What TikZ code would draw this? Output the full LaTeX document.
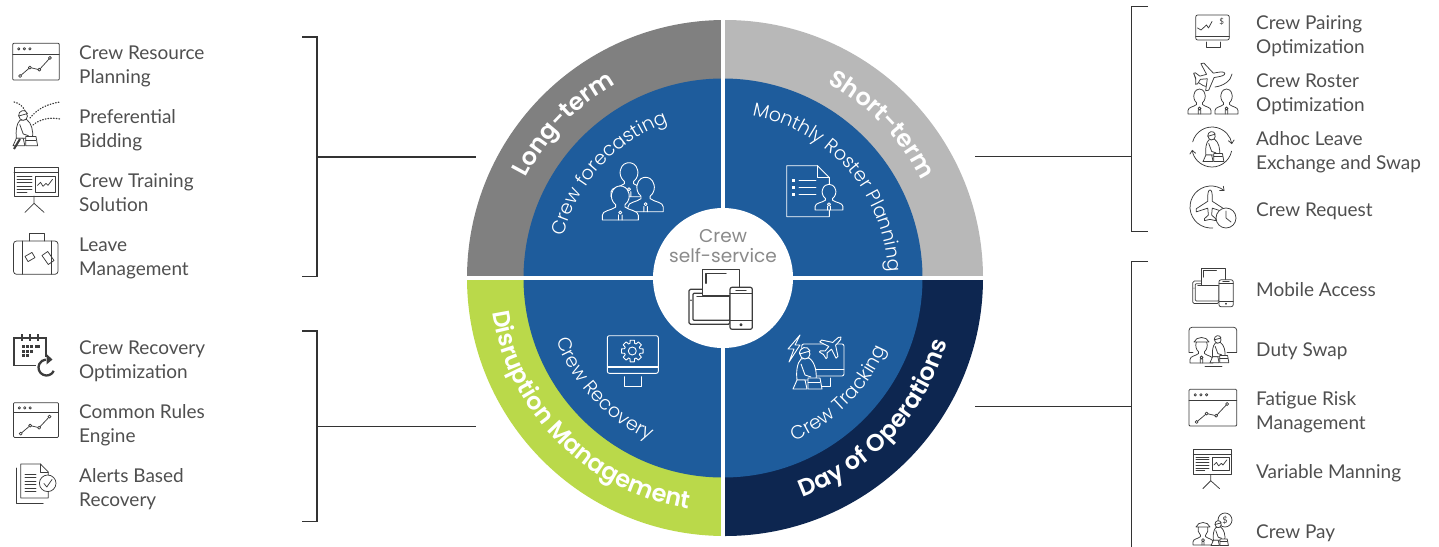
\documentclass[tikz,border=0pt]{standalone}
\usepackage{fontspec}
\usetikzlibrary{decorations.text,arrows.meta}
\setmainfont{Lato}
\newfontfamily\ringfont{Poppins SemiBold}
\newfontfamily\ringlight{Poppins Light}
\newfontfamily\midfont{Poppins}
\definecolor{icgray}{HTML}{3C3C3C}
\definecolor{lblgray}{HTML}{4F4F4F}
\definecolor{brkgray}{HTML}{333333}
\definecolor{qlong}{HTML}{808080}
\definecolor{qshort}{HTML}{B8B8B8}
\definecolor{qdis}{HTML}{BAD94A}
\definecolor{qday}{HTML}{0D2650}
\definecolor{qblue}{HTML}{1E5C9C}
\definecolor{midgray}{HTML}{8A8A8A}
\tikzset{
 ic/.style={draw=icgray,line width=.75pt,line join=round,line cap=round},
 icf/.style={fill=white},
 icb/.style={fill=icgray,draw=none},
 lbl/.style={anchor=west,inner sep=0pt,align=left,text=lblgray,font=\fontsize{19}{24}\selectfont,yshift=-1.5pt,text height=14pt,text depth=5pt},
 lbltwo/.style={lbl,text height=38pt},
 brk/.style={draw=brkgray,line width=1.1pt},
 tip/.style={-{Straight Barb[length=3.5pt,width=6pt]}},
}
% chart window: x,y,w,h
\newcommand\chartwin[4]{\begin{scope}[shift={(#1,#2)},x=#3pt,y=-#4pt]
 \draw[ic,rounded corners=1pt] (0,0) rectangle (1,1);
 \draw[ic] (0,.29)--(1,.29);
 \foreach \q in {.13,.25,.37}{\draw[ic] (\q,.15) circle[radius=1.2pt];}
 \draw[ic] (.16,.89)--(.37,.66)--(.57,.72)--(.8,.4);
 \foreach \p in {(.16,.89),(.37,.66),(.57,.72),(.8,.4)}{\draw[ic,icf] \p circle[radius=1.5pt];}
\end{scope}}
% presentation board
\newcommand\boardicon[3]{\begin{scope}[shift={(#1,#2)},scale=#3]
 \draw[ic] (0,0) rectangle (44,28.7); \draw[ic] (0,5.4)--(44,5.4);
 \foreach \q in {8.7,12,15.3,18.7,22}{\draw[ic] (3,\q)--(18,\q);}
 \draw[ic] (3,24.7)--(13,24.7);
 \draw[ic] (21.7,8.7) rectangle (41,24.7);
 \draw[ic] (23.5,18)--(26.5,15)--(29,19)--(32,16)--(34,18)--(38.5,12);
 \draw[ic] (20,28.7)--(20,36) (11,45)--(20,36)--(30,45);
\end{scope}}
% bust: centre x, top, w, h
\newcommand\bust[4]{\begin{scope}[shift={(#1,#2)},x=#3pt,y=-#4pt]
 \draw[ic,icf] (-.5,1)--(-.5,.86) .. controls (-.5,.72) and (-.25,.72) .. (-.13,.62) -- (-.13,.55) .. controls (-.25,.45) and (-.26,.3) .. (-.24,.22) .. controls (-.2,.04) and (-.08,0) .. (0,0) .. controls (.08,0) and (.2,.04) .. (.24,.22) .. controls (.26,.3) and (.25,.45) .. (.13,.55) -- (.13,.62) .. controls (.25,.72) and (.5,.72) .. (.5,.86) -- (.5,1) -- cycle;
 \draw[ic] (0,.78) circle[radius=1.5pt] (-.05,.85)--(-.05,1) (.05,.85)--(.05,1);
\end{scope}}
% plane: cx,cy,scale,rot
\newcommand\planeicon[4]{\begin{scope}[shift={(#1,#2)},scale=#3,rotate=#4]
 \draw[ic,icf] (0,-12) .. controls (1.5,-12) and (1.8,-9) .. (1.8,-6) -- (1.8,-3) -- (11,3) -- (11,5.5) -- (1.8,2.5) -- (1.3,8) -- (4.5,11) -- (4.5,12.5) -- (0,11.5) -- (-4.5,12.5) -- (-4.5,11) -- (-1.3,8) -- (-1.8,2.5) -- (-11,5.5) -- (-11,3) -- (-1.8,-3) -- (-1.8,-6) .. controls (-1.8,-9) and (-1.5,-12) .. (0,-12) -- cycle;
\end{scope}}
% worker with helmet and boxes: x,y,scale
\newcommand\worker[3]{\begin{scope}[shift={(#1,#2)},scale=#3]
 \draw[ic,icf] (8,11) .. controls (4,15) and (3,24) .. (4,32) -- (23,32) .. controls (24,24) and (22,14) .. (16,10) -- cycle;
 \draw[ic,icf] (12,6) circle[radius=5pt];
 \draw[ic,icf] (6.5,6) .. controls (6,-1) and (15,-3) .. (17,3) -- cycle;
 \draw[ic] (8,16)--(12,27)--(18,29);
 \draw[ic,icf] (0,41)--(4,32)--(12,32)--(14,41)--cycle;
 \draw[ic,icf] (15,41)--(15,30)--(27,30)--(29,41)--cycle;
 \draw[ic] (15,34)--(27,34);
\end{scope}}
% devices: x,y,scale
\newcommand\devices[4]{\begin{scope}[shift={(#1,#2)},scale=#3,ic/.append style={line width=#4pt}]
 \draw[ic,icf,rounded corners=1.5pt] (0,20) rectangle (41,55);
 \draw[ic,rounded corners=1pt] (4,24) rectangle (41,51);
 \draw[ic,icb] (2,31) circle[radius=.9pt];
 \draw[ic,icf] (13.3,26)--(13.3,0)--(50.3,0)--(50.3,26)--cycle;
 \draw[ic] (17,14)--(17,4)--(37,4);
 \draw[ic] (8,27.4)--(40,27.4);
 \draw[ic,icf,rounded corners=2pt] (41,18) rectangle (63.3,60);
 \draw[ic] (41,24)--(63.3,24) (41,51)--(63.3,51) (47,21)--(57,21);
 \draw[ic] (52,55.5) circle[radius=1pt];
\end{scope}}
\begin{document}
\begin{tikzpicture}[x=1pt,y=-1pt]
\useasboundingbox (0,0) rectangle (1439,546);
\clip (0,0) rectangle (1439,546);
% ---------- wheel ----------
\begin{scope}[shift={(725,278)},y=1pt]
 \fill[qlong] (0,0) -- (180:258) arc[start angle=180,end angle=90,radius=258] -- cycle;
 \fill[qshort] (0,0) -- (90:258) arc[start angle=90,end angle=0,radius=258] -- cycle;
 \fill[qdis] (0,0) -- (180:258) arc[start angle=180,end angle=270,radius=258] -- cycle;
 \fill[qday] (0,0) -- (270:258) arc[start angle=270,end angle=360,radius=258] -- cycle;
\end{scope}
\begin{scope}[shift={(723,278)},y=1pt]
 \fill[qblue] (0,0) circle[radius=199.5];
 \draw[white,line width=3.6pt] (-262,0)--(262,0) (0,-262)--(0,262);
 \fill[white] (0,0) circle[radius=70];
 \path[decorate,decoration={text along path,text align=center,text={|\fontsize{24}{24}\selectfont\ringfont\color{white}|Long-term}}] (156:221) arc[start angle=156,end angle=116,radius=221];
 \path[decorate,decoration={text along path,text align=center,text={|\fontsize{24}{24}\selectfont\ringfont\color{white}|Short-term}}] (65:221) arc[start angle=65,end angle=23,radius=221];
 \path[decorate,decoration={text along path,text align=center,text={|\fontsize{24}{24}\selectfont\ringfont\color{white}|Disruption Management}}] (180:233) arc[start angle=180,end angle=270,radius=233];
 \path[decorate,decoration={text along path,text align=center,text={|\fontsize{24}{24}\selectfont\ringfont\color{white}|Day of Operations}}] (-80:233) arc[start angle=-80,end angle=-6,radius=233];
 \path[decorate,decoration={text along path,text align=center,text={|\fontsize{19}{20}\selectfont\ringlight\color{white}|Crew forecasting}}] (170:165) arc[start angle=170,end angle=105,radius=165];
 \path[decorate,decoration={text along path,text align=center,text={|\fontsize{19}{20}\selectfont\ringlight\color{white}|Monthly Roster Planning}}] (85:165) arc[start angle=85,end angle=-3,radius=165];
 \path[decorate,decoration={text along path,text align=center,text={|\fontsize{19}{20}\selectfont\ringlight\color{white}|Crew Recovery}}] (190:178) arc[start angle=190,end angle=256,radius=178];
 \path[decorate,decoration={text along path,text align=center,text={|\fontsize{19}{20}\selectfont\ringlight\color{white}|Crew Tracking}}] (283:178) arc[start angle=283,end angle=347,radius=178];
\end{scope}
\node[inner sep=0pt,align=center,text=midgray,font=\midfont\fontsize{18.5}{20}\selectfont] (selfsvc) at (723,246) {Crew\\self-service};
\devices{689}{269.3}{1}{1.2}
% ---------- white icons in the wheel ----------
\begin{scope}[ic/.style={draw=white,line width=.9pt,line join=round,line cap=round},icf/.style={fill=qblue}]
 \bust{629}{162.7}{36}{34}
 \bust{645.6}{177.3}{35.3}{34.4}
 \bust{620.3}{186}{36}{34}
 % roster document
 \draw[ic] (829.3,186)--(829.3,177.5)--(817.5,165.7)--(786.7,165.7)--(786.7,216.7)--(829.3,216.7)--(829.3,210);
 \draw[ic] (817.5,165.7)--(817.5,177.5)--(829.3,177.5);
 \foreach \q in {180,187,194}{\draw[ic] (799,\q)--(816,\q); \fill[white] (792,\q-1.5) rectangle (795,\q+1.5);}
 \bust{829}{184.3}{27.7}{25.7}
 % recovery monitor
 \draw[ic,rounded corners=2pt] (607.3,335.7) rectangle (658.3,373.3);
 \draw[white,line width=2pt] (607.3,366.7)--(658.3,366.7);
 \draw[ic] (624,376.7)--(624,386.7)--(641.7,386.7)--(641.7,376.7);
 \begin{scope}[shift={(632.3,351)}]
  \draw[ic] (-11:11) \foreach \a in {0,45,...,315}{ -- (\a-11:11) -- (\a+11:11) -- (\a+17:8) -- (\a+28:8)} -- cycle;
  \draw[ic] (0,0) circle[radius=4pt];
 \end{scope}
 % tracking
 \draw[ic,rounded corners=2pt] (801.7,344) rectangle (844,376);
 \draw[ic] (801.7,369)--(844,369);
 \draw[ic] (815,378)--(815,386)--(830,386)--(830,378);
 \draw[ic] (800,335)--(788,349)--(794,349)--(789,362)--(800,345)--(795,345)--cycle;
 \planeicon{832}{346}{1.05}{-45}
 \worker{793}{348}{1}
\end{scope}
% ---------- brackets ----------
\coordinate (la1) at (302,37); \coordinate (lb1) at (317,37); \coordinate (lc1) at (317,276.7); \coordinate (ld1) at (302,276.7);
\coordinate (ls1) at (317,157); \coordinate (le1) at (476,157);
\draw[brk] (la1)--(lb1)--(lc1)--(ld1); \draw[brk] (ls1)--(le1);
\coordinate (la2) at (302,331); \coordinate (lb2) at (317,331); \coordinate (lc2) at (317,521.7); \coordinate (ld2) at (302,521.7);
\coordinate (ls2) at (317,426.5); \coordinate (le2) at (476,426.5);
\draw[brk] (la2)--(lb2)--(lc2)--(ld2); \draw[brk] (ls2)--(le2);
\coordinate (ra1) at (1148,6.7); \coordinate (rb1) at (1131.5,6.7); \coordinate (rc1) at (1131.5,231.7); \coordinate (rd1) at (1148,231.7);
\coordinate (rs1) at (1131.5,156.5); \coordinate (re1) at (975,156.5);
\draw[brk] (ra1)--(rb1)--(rc1)--(rd1); \draw[brk] (rs1)--(re1);
\coordinate (ra2) at (1148,261.7); \coordinate (rb2) at (1131.5,261.7); \coordinate (rc2) at (1131.5,548);
\coordinate (rs2) at (1131.5,406.7); \coordinate (re2) at (975,406.7);
\draw[brk] (ra2)--(rb2)--(rc2); \draw[brk] (rs2)--(re2);
% ---------- labels ----------
\node[lbltwo] (t1) at (79,65) {Crew Resource\\Planning};
\node[lbltwo] (t2) at (79,129) {Preferential\\Bidding};
\node[lbltwo] (t3) at (79,193) {Crew Training\\Solution};
\node[lbltwo] (t4) at (79,257) {Leave\\Management};
\node[lbltwo] (t5) at (79,360) {Crew Recovery\\Optimization};
\node[lbltwo] (t6) at (79,424) {Common Rules\\Engine};
\node[lbltwo] (t7) at (79,488) {Alerts Based\\Recovery};
\node[lbltwo] (t8) at (1256,35) {Crew Pairing\\Optimization};
\node[lbltwo] (t9) at (1256,93) {Crew Roster\\Optimization};
\node[lbltwo] (t10) at (1256,151) {Adhoc Leave\\Exchange and Swap};
\node[lbl] (t11) at (1256,210) {Crew Request};
\node[lbl] (t12) at (1256,290) {Mobile Access};
\node[lbl] (t13) at (1256,350) {Duty Swap};
\node[lbltwo] (t14) at (1256,411) {Fatigue Risk\\Management};
\node[lbl] (t15) at (1256,472) {Variable Manning};
\node[lbl] (t16) at (1256,532) {Crew Pay};
% ---------- left icons ----------
\chartwin{12.7}{43.3}{46.6}{36.7}
% preferential bidding
\draw[ic,dotted,line width=1.2pt] (30,118) .. controls (38,108) and (48,104) .. (60,102);
\draw[ic,dotted,line width=1.2pt] (33,125) .. controls (40,119) and (50,117) .. (60,119);
\draw[ic,dotted,line width=1.2pt] (14,102) .. controls (19,103) and (23,106) .. (25,111);
\worker{13}{111}{.85}
\draw[icgray,line width=2pt] (14,149)--(20,139);
\boardicon{14}{167.3}{1}
% suitcase
\draw[ic,rounded corners=3pt] (13.5,241) rectangle (58,274.3);
\draw[ic] (29,241)--(29,233.7)--(44,233.7)--(44,241);
\draw[ic] (22,241)--(22,274.3) (51,241)--(51,274.3);
\draw[ic,rotate around={30:(30,257)}] (26,254) rectangle (34,260);
\draw[ic,rotate around={35:(48,258)}] (44.5,252.5) rectangle (51.5,263.5);
% calendar
\draw[icgray,line width=1.3pt] (46,357)--(46,338)--(14,338)--(14,365.7)--(36,365.7);
\draw[icgray,line width=1.2pt] (22,334)--(22,341) (30,334)--(30,341) (38,334)--(38,341);
\foreach \gx in {21.5,25.5,29.5}{\foreach \gy in {345,349.5,354}{\fill[icgray] (\gx,\gy) rectangle +(3,3);}}
\fill[white] (29.5,354) rectangle +(3,3);
\fill[icgray] (35,345) rectangle +(5,3);
\begin{scope}[shift={(46.5,367.5)},y=1pt]
 \draw[icgray,line width=2.3pt] (-25:8) arc[start angle=-25,end angle=-265,radius=8];
 \fill[icgray] (0,13.5)--(6,8)--(0,3)--cycle;
\end{scope}
\chartwin{13.5}{402.7}{45}{34.7}
% document with check
\draw[ic] (16.7,468)--(16.7,503)--(43.3,503);
\draw[ic,fill=white] (20.7,464)--(40.5,464)--(48.3,472)--(48.3,498)--(20.7,498)--cycle;
\draw[ic] (40.5,464)--(40.5,472)--(48.3,472);
\foreach \q in {474,477.5,481,484.5,488,491.5}{\draw[ic] (25,\q)--(36,\q);}
\draw[ic,icf] (47.7,483.3) circle[radius=8.3pt];
\draw[ic] (44,483.5)--(46.8,487)--(52,479.5);
% ---------- right icons ----------
% monitor with dollar
\draw[ic,rounded corners=2pt] (1195.7,15) rectangle (1229.3,40);
\draw[ic] (1195.7,36)--(1229.3,36);
\draw[ic] (1206,42)--(1206,47)--(1220,47)--(1220,42);
\draw[ic] (1197.5,28)--(1201,30)--(1206.5,25)--(1208.5,28)--(1212,21.5);
\node[inner sep=0pt,text=icgray,font=\fontsize{8}{8}\selectfont] (dol1) at (1221.7,21.7) {\$};
% crew roster
\draw[ic] (1194,74) .. controls (1195,81) and (1201,86) .. (1208,87);
\draw[ic] (1232,74) .. controls (1231,81) and (1223,86) .. (1215,87);
\planeicon{1210}{76}{1.25}{-80}
\bust{1199.5}{89}{23}{25}
\bust{1226.5}{89}{23}{25}
% adhoc
\begin{scope}[shift={(1212,147)},y=1pt]
 \draw[ic,tip] (165:20) arc[start angle=165,end angle=8,radius=20];
 \draw[ic,tip] (-12:20) arc[start angle=-12,end angle=-172,radius=20];
\end{scope}
\worker{1203}{132}{.72}
% crew request
\begin{scope}[shift={(1211,207)},y=1pt]
 \draw[ic,tip] (-85:21) arc[start angle=-85,end angle=-310,radius=21];
\end{scope}
\planeicon{1210}{205}{1.25}{0}
\draw[ic,icf] (1226,218) circle[radius=10pt];
\draw[ic] (1226,211)--(1226,218)--(1231,222);
% mobile access
\devices{1192.7}{268.3}{.64}{.75}
% duty swap
\draw[ic,rounded corners=3pt] (1189,352)--(1189,327.3)--(1236.7,327.3)--(1236.7,352);
\draw[ic] (1189,352)--(1193,352) (1227,352)--(1236.7,352) (1205,366)--(1222,366);
\bust{1201.5}{338}{23}{25}
\draw[ic,icf] (1194,342) .. controls (1196,336) and (1207,336) .. (1209,342) -- cycle;
\worker{1210}{336}{.65}
\chartwin{1189}{389.3}{47.7}{36.7}
\boardicon{1193.3}{449.3}{.873}
% crew pay
\draw[ic] (1225,520) circle[radius=7pt];
\node[inner sep=0pt,text=icgray,font=\fontsize{9}{9}\selectfont] (dol2) at (1225,520) {\$};
\bust{1203}{523}{20}{22}
\draw[ic,icf] (1196,527) .. controls (1198,521) and (1208,521) .. (1210,527) -- cycle;
\worker{1211}{521}{.6}
\end{tikzpicture}
\end{document}
